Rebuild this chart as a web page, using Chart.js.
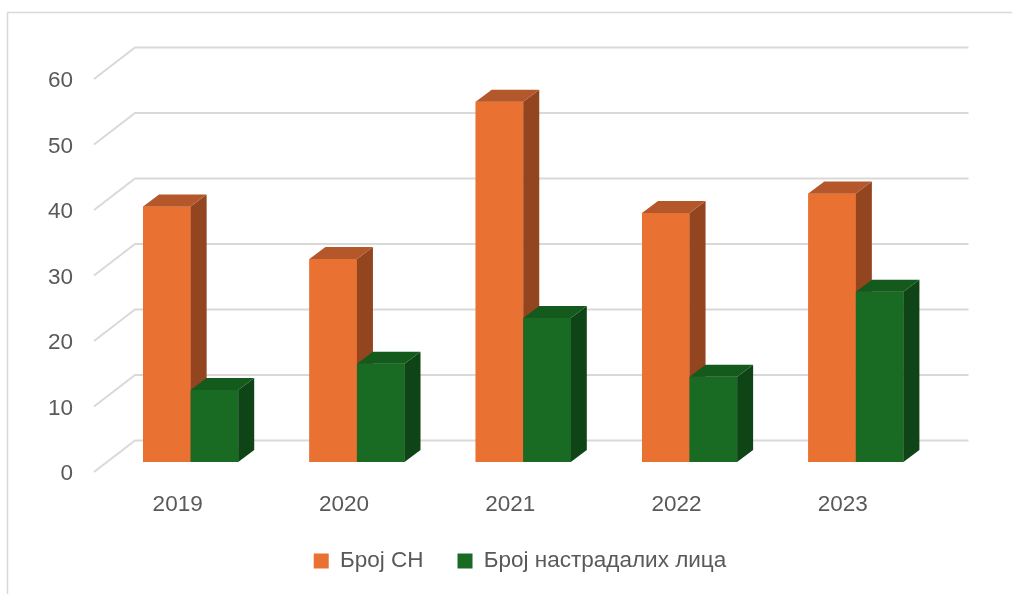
<!DOCTYPE html>
<html>
<head>
<meta charset="utf-8">
<script src="https://cdn.jsdelivr.net/npm/chart.js@4"></script>
<style>
  html, body { margin: 0; padding: 0; background: #fff; }
  #wrap { width: 1012px; height: 594px; position: relative; }
</style>
</head>
<body>
<div id="wrap"><canvas id="myChart"></canvas></div>
<script>
const years = ['2019', '2020', '2021', '2022', '2023'];
const brojSN = [39, 31, 55, 38, 41];
const brojNastradalih = [11, 15, 22, 13, 26];
const yTicks = [0, 10, 20, 30, 40, 50, 60];

const seriesColors = [
    { front: '#E97132', side: '#93451F', top: '#B4572A' },
    { front: '#196B24', side: '#0F4516', top: '#135A1C' }
];
const gridColor = '#D9D9D9';
const textColor = '#595959';

// bar depth and wall offsets (relative to bar plane)
const barDepth = { dx: 16, dy: -12 };
const backWall = { dx: 27.5, dy: -21.5 };
const frontEdge = { dx: -13.5, dy: 10 };

const frame = {
    id: 'frame',
    beforeDraw(chart) {
        const ctx = chart.ctx;
        ctx.save();
        ctx.strokeStyle = gridColor;
        ctx.lineWidth = 1.5;
        ctx.strokeRect(7.5, 12.5, 1200, 800);
        ctx.restore();
    }
};

const wallGrid = {
    id: 'wallGrid',
    beforeDatasetsDraw(chart) {
        const { ctx, chartArea, scales } = chart;
        ctx.save();
        ctx.strokeStyle = gridColor;
        ctx.lineWidth = 2;
        yTicks.forEach(v => {
            const y = scales.y.getPixelForValue(v);
            ctx.beginPath();
            ctx.moveTo(chartArea.left + frontEdge.dx, y + frontEdge.dy);
            ctx.lineTo(chartArea.left + backWall.dx, y + backWall.dy);
            ctx.lineTo(chartArea.right + backWall.dx + 2, y + backWall.dy);
            ctx.stroke();
        });
        ctx.restore();
    }
};

const bars3d = {
    id: 'bars3d',
    afterDatasetsDraw(chart) {
        const ctx = chart.ctx;
        ctx.save();
        years.forEach((yr, i) => {
            chart.data.datasets.forEach((ds, d) => {
                const bar = chart.getDatasetMeta(d).data[i];
                const c = seriesColors[d];
                const left = bar.x - bar.width / 2;
                const right = bar.x + bar.width / 2;
                const top = bar.y;
                const base = bar.base;

                ctx.fillStyle = c.front;
                ctx.fillRect(left, top, right - left, base - top);

                ctx.fillStyle = c.side;
                ctx.beginPath();
                ctx.moveTo(right, top);
                ctx.lineTo(right + barDepth.dx, top + barDepth.dy);
                ctx.lineTo(right + barDepth.dx, base + barDepth.dy);
                ctx.lineTo(right, base);
                ctx.closePath();
                ctx.fill();

                ctx.fillStyle = c.top;
                ctx.beginPath();
                ctx.moveTo(left, top);
                ctx.lineTo(left + barDepth.dx, top + barDepth.dy);
                ctx.lineTo(right + barDepth.dx, top + barDepth.dy);
                ctx.lineTo(right, top);
                ctx.closePath();
                ctx.fill();
            });
        });
        ctx.restore();
    }
};

const font = { family: "'Liberation Sans', Arial, sans-serif", size: 22.5 };

new Chart(document.getElementById('myChart'), {
    type: 'bar',
    data: {
        labels: years,
        datasets: [
            {
                label: 'Број СН',
                data: brojSN,
                backgroundColor: seriesColors[0].front,
                borderWidth: 0
            },
            {
                label: 'Број настрадалих лица',
                data: brojNastradalih,
                backgroundColor: seriesColors[1].front,
                borderWidth: 0
            }
        ]
    },
    options: {
        responsive: true,
        maintainAspectRatio: false,
        animation: false,
        categoryPercentage: 0.572,
        barPercentage: 1,
        // uneven side padding moves the legend centre right, axis widths keep the plot at 107.5..939
        layout: { padding: { left: 28, right: 0, top: 69, bottom: 11.75 } },
        scales: {
            x: {
                grid: { display: false },
                border: { display: false },
                ticks: { font, color: textColor, padding: 21, labelOffset: -13 },
                afterFit: s => { s.height = 53.75; }
            },
            y: {
                min: 0,
                max: 60,
                grid: { display: false, drawTicks: false },
                border: { display: false },
                ticks: { stepSize: 10, font, color: textColor, padding: 34.5, labelOffset: 12 },
                afterFit: s => { s.width = 79.5; }
            },
            spacer: {
                position: 'right',
                grid: { display: false, drawTicks: false },
                border: { display: false },
                ticks: { display: false },
                afterFit: s => { s.width = 73; }
            }
        },
        plugins: {
            legend: {
                position: 'bottom',
                labels: { font, color: textColor, boxWidth: 15, boxHeight: 15, padding: 34 }
            },
            tooltip: { enabled: false }
        }
    },
    plugins: [frame, wallGrid, bars3d]
});
</script>
</body>
</html>
